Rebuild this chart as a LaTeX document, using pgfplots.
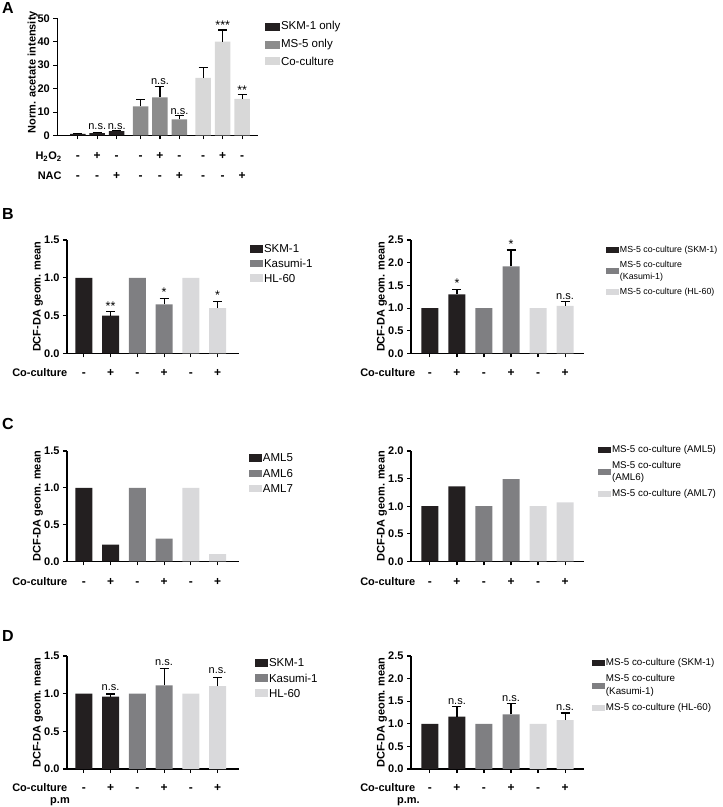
\documentclass[border=0pt]{standalone}
\usepackage{fontspec}
\setmainfont{Liberation Sans}
\usepackage{pgfplots}
\pgfplotsset{compat=1.18}
\definecolor{cdark}{HTML}{231F20}
\definecolor{cmid}{HTML}{7F7F82}
\definecolor{clight}{HTML}{D9D9DB}
\definecolor{amid}{HTML}{8C8C8C}
\definecolor{alight}{HTML}{D8D8D8}
\newcommand{\fs}[1]{\fontsize{#1}{#1}\selectfont}
\tikzset{
  ann/.style={anchor=south, inner sep=1pt, font=\fs{11}},
  ast/.style={anchor=south, inner sep=0.5pt, font=\fs{12.5}},
  sgn/.style={anchor=base, inner sep=0pt, font=\bfseries\fs{12}, yshift=#1},
  lab/.style 2 args={anchor=base east, inner sep=0pt, font=\bfseries\fs{11}, xshift=#1, yshift=#2},
  plab/.style={anchor=base west, inner sep=0pt, font=\bfseries\fs{16}},
}
\pgfplotsset{
  gp/.style={
    scale only axis, anchor=south west, clip=false,
    axis x line*=bottom, axis y line*=left,
    axis line style={line width=1.1pt, black, -},
    every tick/.style={line width=1.1pt, black},
    major tick length=4pt, tick align=outside,
    ymin=0, ybar,
    xtick={0,1,2,3,4,5}, xticklabels={},
    yticklabel style={font=\bfseries\fs{11}},
    /pgf/number format/assume math mode=true,
    every axis y label/.style={at={(axis description cs:-0.1686,0.5)}, rotate=90, anchor=center},
    ylabel style={font=\bfseries\fs{11}},
    legend cell align=left,
    legend style={draw=none, fill=none, anchor=north west, inner sep=0pt, outer sep=0pt,
      nodes={inner sep=1pt, text depth=}, /tikz/every even column/.append style={column sep=4pt}},
  },
  dcf/.style={yticklabel style={/pgf/number format/.cd, fixed, fixed zerofill, precision=1}},
  lsqA/.style={legend image code/.code={\fill[##1] (0pt,-4pt) rectangle (15pt,4pt);}},
  lsqL/.style={legend image code/.code={\fill[##1] (0pt,-3.7pt) rectangle (13pt,3.7pt);}},
  lsqR/.style={legend image code/.code={\fill[##1] (0pt,-3pt) rectangle (13pt,3pt);}},
  ebp/.style={forget plot, bar shift=0pt, draw=none, fill=none,
    error bars/.cd, y dir=plus, y explicit,
    error bar style={draw=black, line width=1.1pt},
    error mark options={draw=black, line width=1.1pt, rotate=90, mark size=4.5pt}},
}
\begin{document}
\begin{tikzpicture}
\path[use as bounding box] (0pt,0pt) rectangle (723pt,807pt);
% panel letters
\node[plab] at (2pt,793.7pt) {A};
\node[plab] at (2pt,587pt) {B};
\node[plab] at (2pt,377pt) {C};
\node[plab] at (2pt,165.3pt) {D};

% ================= A =================
\begin{axis}[gp, at={(57.3pt,671.5pt)}, width=200.7pt, height=117.2pt,
  xmin=-1.05, xmax=9.25, ymax=50, ytick={0,10,20,30,40,50},
  xtick={0,1,2,3.22,4.22,5.22,6.44,7.44,8.44},
  bar width=15.5pt,
  ylabel={Norm. acetate intensity},
  ylabel style={at={(axis description cs:-0.122,0.54)}},
  legend style={at={(1.035,0.983)}, row sep=5.2pt, font=\fs{11.5}},
]
\addplot[bar shift=0pt, fill=cdark, draw=none, lsqA] coordinates {(0,0.7) (1,1.0) (2,1.9)};
\addplot[bar shift=0pt, fill=amid, draw=none, lsqA] coordinates {(3.22,12.4) (4.22,16.3) (5.22,6.9)};
\addplot[bar shift=0pt, fill=alight, draw=none, lsqA] coordinates {(6.44,24.6) (7.44,40.0) (8.44,15.6)};
\addplot[ebp] coordinates {
 (0,0.7) +- (0,0.3) (1,1.0) +- (0,0.3) (2,1.9) +- (0,0.3)
 (3.22,12.4) +- (0,3.0) (4.22,16.3) +- (0,4.7) (5.22,6.9) +- (0,1.5)
 (6.44,24.6) +- (0,4.3) (7.44,40.0) +- (0,5.0) (8.44,15.6) +- (0,1.8)};
\legend{SKM-1 only, MS-5 only, Co-culture}
\node[ann] at (axis cs:1,1.8) {n.s.};
\node[ann] at (axis cs:2,1.8) {n.s.};
\node[ann] at (axis cs:4.22,21.0) {n.s.};
\node[ann] at (axis cs:5.22,8.4) {n.s.};
\node[ast] at (axis cs:7.44,45.0) {***};
\node[ast] at (axis cs:8.44,17.4) {**};
\pgfplotsinvokeforeach{0,2,3.22,5.22,6.44,8.44}{\node[sgn=-24pt] at (axis cs:#1,0) {-};}
\pgfplotsinvokeforeach{1,4.22,7.44}{\node[sgn=-24pt] at (axis cs:#1,0) {+};}
\pgfplotsinvokeforeach{0,1,3.22,4.22,6.44,7.44}{\node[sgn=-43.7pt] at (axis cs:#1,0) {-};}
\pgfplotsinvokeforeach{2,5.22,8.44}{\node[sgn=-43.7pt] at (axis cs:#1,0) {+};}
\node[lab={4.5pt}{-24pt}] at (rel axis cs:0,0) {H\textsubscript{2}O\textsubscript{2}};
\node[lab={4.5pt}{-43.7pt}] at (rel axis cs:0,0) {NAC};
\end{axis}

% ================= B left =================
\begin{axis}[gp, dcf, at={(67pt,453.5pt)}, width=172pt, height=113.5pt,
  xmin=-0.63, xmax=5.8, ymax=1.5, ytick={0,0.5,1,1.5}, bar width=17pt,
  ylabel={DCF-DA geom. mean},
  legend style={at={(1.064,0.966)}, row sep=4.3pt, font=\fs{11.5}},
]
\addplot[bar shift=0pt, fill=cdark, draw=none, lsqL] coordinates {(0,1) (1,0.50)};
\addplot[bar shift=0pt, fill=cmid, draw=none, lsqL] coordinates {(2,1) (3,0.65)};
\addplot[bar shift=0pt, fill=clight, draw=none, lsqL] coordinates {(4,1) (5,0.60)};
\addplot[ebp] coordinates {
 (1,0.50) +- (0,0.05) (3,0.65) +- (0,0.08) (5,0.60) +- (0,0.09)};
\legend{SKM-1, Kasumi-1, HL-60}
\node[ast] at (axis cs:1,0.56) {**};
\node[ast] at (axis cs:3,0.74) {*};
\node[ast] at (axis cs:5,0.70) {*};
\pgfplotsinvokeforeach{0,2,4}{\node[sgn=-23.3pt] at (axis cs:#1,0) {-};}
\pgfplotsinvokeforeach{1,3,5}{\node[sgn=-23.3pt] at (axis cs:#1,0) {+};}
\node[lab={0.5pt}{-23.3pt}] at (rel axis cs:0,0) {Co-culture};
\end{axis}

% ================= B right =================
\begin{axis}[gp, dcf, at={(411pt,453.5pt)}, width=173pt, height=113.5pt,
  xmin=-0.7, xmax=5.7, ymax=2.5, ytick={0,0.5,1,1.5,2,2.5}, bar width=17pt,
  ylabel={DCF-DA geom. mean},
  legend style={at={(1.127,0.958)}, row sep=3pt, font=\fontsize{8.8}{12}\selectfont},
]
\addplot[bar shift=0pt, fill=cdark, draw=none, lsqR] coordinates {(0,1) (1,1.30)};
\addplot[bar shift=0pt, fill=cmid, draw=none, lsqR] coordinates {(2,1) (3,1.92)};
\addplot[bar shift=0pt, fill=clight, draw=none, lsqR] coordinates {(4,1) (5,1.05)};
\addplot[ebp] coordinates {
 (1,1.30) +- (0,0.11) (3,1.92) +- (0,0.36) (5,1.05) +- (0,0.10)};
\legend{MS-5 co-culture (SKM-1), {\begin{tabular}[c]{@{}l@{}}MS-5 co-culture\\(Kasumi-1)\end{tabular}}, MS-5 co-culture (HL-60)}
\node[ast] at (axis cs:1,1.43) {*};
\node[ast] at (axis cs:3,2.30) {*};
\node[ann] at (axis cs:5,1.16) {n.s.};
\pgfplotsinvokeforeach{0,2,4}{\node[sgn=-23.3pt] at (axis cs:#1,0) {-};}
\pgfplotsinvokeforeach{1,3,5}{\node[sgn=-23.3pt] at (axis cs:#1,0) {+};}
\node[lab={4.5pt}{-23.3pt}] at (rel axis cs:0,0) {Co-culture};
\end{axis}

% ================= C left =================
\begin{axis}[gp, dcf, at={(67pt,245.5pt)}, width=172pt, height=110.5pt,
  xmin=-0.63, xmax=5.8, ymax=1.5, ytick={0,0.5,1,1.5}, bar width=17pt,
  ylabel={DCF-DA geom. mean},
  legend style={at={(1.058,0.983)}, row sep=5.3pt, font=\fs{11.5}},
]
\addplot[bar shift=0pt, fill=cdark, draw=none, lsqL] coordinates {(0,1) (1,0.23)};
\addplot[bar shift=0pt, fill=cmid, draw=none, lsqL] coordinates {(2,1) (3,0.31)};
\addplot[bar shift=0pt, fill=clight, draw=none, lsqL] coordinates {(4,1) (5,0.10)};
\legend{AML5, AML6, AML7}
\pgfplotsinvokeforeach{0,2,4}{\node[sgn=-24pt] at (axis cs:#1,0) {-};}
\pgfplotsinvokeforeach{1,3,5}{\node[sgn=-24pt] at (axis cs:#1,0) {+};}
\node[lab={0.5pt}{-24pt}] at (rel axis cs:0,0) {Co-culture};
\end{axis}

% ================= C right =================
\begin{axis}[gp, dcf, at={(411pt,245.5pt)}, width=173pt, height=110.5pt,
  xmin=-0.7, xmax=5.7, ymax=2, ytick={0,0.5,1,1.5,2}, bar width=17pt,
  ylabel={DCF-DA geom. mean},
  legend style={at={(1.081,1.059)}, row sep=3.3pt, font=\fontsize{9.8}{12.3}\selectfont},
]
\addplot[bar shift=0pt, fill=cdark, draw=none, lsqR] coordinates {(0,1) (1,1.36)};
\addplot[bar shift=0pt, fill=cmid, draw=none, lsqR] coordinates {(2,1) (3,1.49)};
\addplot[bar shift=0pt, fill=clight, draw=none, lsqR] coordinates {(4,1) (5,1.07)};
\legend{MS-5 co-culture (AML5), {\begin{tabular}[c]{@{}l@{}}MS-5 co-culture\\(AML6)\end{tabular}}, MS-5 co-culture (AML7)}
\pgfplotsinvokeforeach{0,2,4}{\node[sgn=-24pt] at (axis cs:#1,0) {-};}
\pgfplotsinvokeforeach{1,3,5}{\node[sgn=-24pt] at (axis cs:#1,0) {+};}
\node[lab={4.5pt}{-24pt}] at (rel axis cs:0,0) {Co-culture};
\end{axis}

% ================= D left =================
\begin{axis}[gp, dcf, at={(67pt,38pt)}, width=172pt, height=113pt,
  xmin=-0.63, xmax=5.8, ymax=1.5, ytick={0,0.5,1,1.5}, bar width=17pt,
  ylabel={DCF-DA geom. mean},
  legend style={at={(1.093,0.983)}, row sep=4.8pt, font=\fs{11.5}},
]
\addplot[bar shift=0pt, fill=cdark, draw=none, lsqL] coordinates {(0,1) (1,0.96)};
\addplot[bar shift=0pt, fill=cmid, draw=none, lsqL] coordinates {(2,1) (3,1.11)};
\addplot[bar shift=0pt, fill=clight, draw=none, lsqL] coordinates {(4,1) (5,1.10)};
\addplot[ebp] coordinates {
 (1,0.96) +- (0,0.035) (3,1.11) +- (0,0.23) (5,1.10) +- (0,0.12)};
\legend{SKM-1, Kasumi-1, HL-60}
\node[ann] at (axis cs:1,1.03) {n.s.};
\node[ann] at (axis cs:3,1.36) {n.s.};
\node[ann] at (axis cs:5,1.25) {n.s.};
\pgfplotsinvokeforeach{0,2,4}{\node[sgn=-22.8pt] at (axis cs:#1,0) {-};}
\pgfplotsinvokeforeach{1,3,5}{\node[sgn=-22.8pt] at (axis cs:#1,0) {+};}
\node[lab={0.5pt}{-22.8pt}] at (rel axis cs:0,0) {Co-culture};
\node[lab={3pt}{-34pt}] at (rel axis cs:0,0) {p.m};
\end{axis}

% ================= D right =================
\begin{axis}[gp, dcf, at={(411pt,38pt)}, width=173pt, height=113pt,
  xmin=-0.7, xmax=5.7, ymax=2.5, ytick={0,0.5,1,1.5,2,2.5}, bar width=17pt,
  ylabel={DCF-DA geom. mean},
  legend style={at={(1.046,0.984)}, row sep=3.3pt, font=\fontsize{9.8}{12.3}\selectfont},
]
\addplot[bar shift=0pt, fill=cdark, draw=none, lsqR] coordinates {(0,1) (1,1.16)};
\addplot[bar shift=0pt, fill=cmid, draw=none, lsqR] coordinates {(2,1) (3,1.21)};
\addplot[bar shift=0pt, fill=clight, draw=none, lsqR] coordinates {(4,1) (5,1.08)};
\addplot[ebp] coordinates {
 (1,1.16) +- (0,0.22) (3,1.21) +- (0,0.23) (5,1.08) +- (0,0.16)};
\legend{MS-5 co-culture (SKM-1), {\begin{tabular}[c]{@{}l@{}}MS-5 co-culture\\(Kasumi-1)\end{tabular}}, MS-5 co-culture (HL-60)}
\node[ann] at (axis cs:1,1.40) {n.s.};
\node[ann] at (axis cs:3,1.46) {n.s.};
\node[ann] at (axis cs:5,1.26) {n.s.};
\pgfplotsinvokeforeach{0,2,4}{\node[sgn=-22.8pt] at (axis cs:#1,0) {-};}
\pgfplotsinvokeforeach{1,3,5}{\node[sgn=-22.8pt] at (axis cs:#1,0) {+};}
\node[lab={4.5pt}{-22.8pt}] at (rel axis cs:0,0) {Co-culture};
\node[lab={9pt}{-34pt}] at (rel axis cs:0,0) {p.m.};
\end{axis}
\end{tikzpicture}
\end{document}
